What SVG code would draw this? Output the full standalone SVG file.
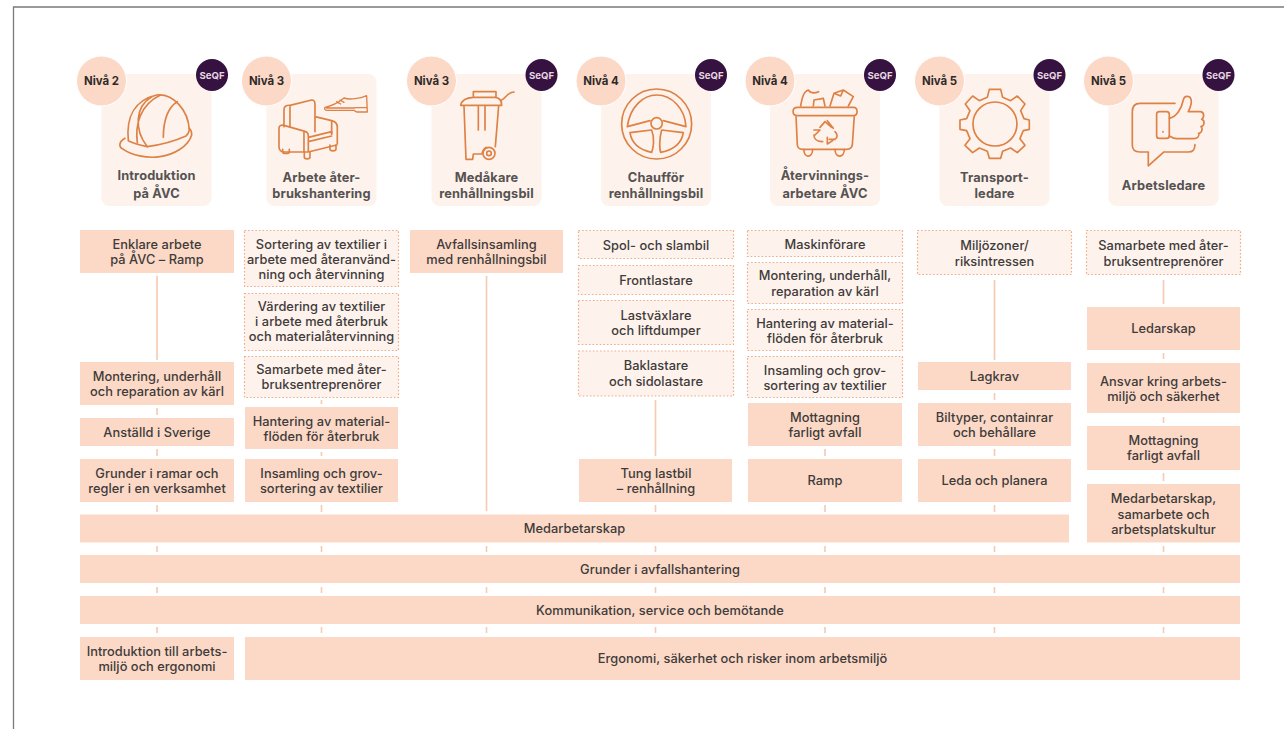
<svg xmlns="http://www.w3.org/2000/svg" width="1284" height="729" viewBox="0 0 1284 729">
<style>
text{font-family:"Inter","Liberation Sans",sans-serif;text-anchor:middle}
.s{fill:#fbd9c6}
.d{fill:#fdf2ec;stroke:#f0ac88;stroke-width:1.200;stroke-dasharray:1.600 2}
.t{font-size:12.800px;letter-spacing:.05px;font-weight:500;fill:#3f3b3a}
.h{font-size:12.800px;letter-spacing:.15px;font-weight:700;fill:#555352}
.card{fill:#fef2ec}
.niv{fill:#fbd9c6;stroke:#fff;stroke-width:1}
.nt{font-size:11.400px;font-weight:700;fill:#2f2a2a}
.sq{fill:#35123f}
.st{font-size:9.600px;font-weight:700;fill:#e6d6e2}
.ic{fill:none;stroke:#dd8145;stroke-width:5;stroke-linecap:round;stroke-linejoin:round}
.c{stroke:#f6c9b1;stroke-width:1.600;fill:none}
</style>
<path d="M13.500 729V7H1284" fill="none" stroke="#7a7a7a" stroke-width="1.300"/>
<g id="connectors">
<path class="c" d="M157 276V360M157 408V415M157 449V456M157 505V512M157 546V552M157 587V593M157 627V633
M321.500 400V404M321.500 452V456M321.500 505V512M321.500 546V552M321.500 587V593M321.500 627V633
M486.500 276V511M486.500 546V552M486.500 587V593M486.500 627V633
M655.500 400V456M655.500 505V512M655.500 546V552M655.500 587V593M655.500 627V633
M825 449V456M825 505V512M825 546V552M825 587V593M825 627V633
M994.500 280V360M994.500 393V400M994.500 449V456M994.500 505V512M994.500 546V552M994.500 587V593M994.500 627V633
M1163.500 280V304M1163.500 353V359M1163.500 417V423M1163.500 473V481M1163.500 546V552M1163.500 587V593M1163.500 627V633"/>
</g>

<g id="card-1"><rect class="card" x="101.500" y="74" width="110" height="132" rx="8"/>
<g class="ic" transform="translate(60 50) scale(.3333)"><path d="M195 265C176 276 175 291 190 298C215 315 260 326 300 320C340 315 385 290 395 255C395 245 392 238 388 235"/><path d="M205 272C198 200 225 150 290 135C340 130 385 180 388 240C386 250 382 255 378 258C340 275 300 285 262 290C240 285 220 280 205 272Z"/><path d="M262 290C222 240 225 170 275 140M232 278C225 225 240 165 300 136M310 262C310 210 325 170 352 155"/></g>
<text class="h" x="156.500" y="180">Introduktion</text><text class="h" x="156.500" y="198">på ÅVC</text>
<circle class="niv" cx="101.500" cy="81" r="25"/><text class="nt" x="101.500" y="85">Nivå 2</text>
<circle class="sq" cx="212" cy="75" r="16"/><text class="st" x="212" y="78.500">SeQF</text></g>

<g id="card-2"><rect class="card" x="266.500" y="74" width="110" height="132" rx="8"/>
<g class="ic" transform="translate(60 50) scale(.3333)"><path d="M672 230V180C672 168 680 165 690 166L755 150C762 150 765 155 765 162V245M690 166V232M765 200L815 212C828 215 832 222 832 232V282M815 212V252"/><path d="M657 235C657 226 664 224 672 226L735 244C742 246 745 250 745 258V306H675C662 306 657 300 657 290ZM732 244V306M745 262L815 245V252M745 275L815 258M745 306L830 285"/><path d="M668 298V306C668 312 688 312 688 306V298M733 306V322C733 328 750 328 750 322V306M810 285V298C810 304 828 304 828 298V285"/></g>
<g class="ic" style="stroke-width:4" transform="translate(60 50) scale(.3333)"><path d="M795 172C815 168 835 158 852 144C870 150 900 146 920 137L922 186H890L882 181H800C794 181 793 176 795 172ZM800 174H884M886 173H921M830 155L842 162M840 150L852 157"/></g>
<text class="h" x="321.500" y="182">Arbete åter-</text><text class="h" x="321.500" y="198">brukshantering</text>
<circle class="niv" cx="266.500" cy="81" r="25"/><text class="nt" x="266.500" y="85">Nivå 3</text></g>

<g id="card-3"><rect class="card" x="431.500" y="74" width="110" height="132" rx="8"/>
<g class="ic" transform="translate(400 50) scale(.3333)"><path d="M182 166C185 150 200 143 220 142H285C300 143 305 155 305 166H182ZM220 142V125H288V142M305 150C318 145 322 126 342 126"/><path d="M192 168L198 328H218L220 312H246C248 300 252 296 258 292M296 168L286 290M235 170V240M255 170V240"/><circle cx="267" cy="310" r="18"/><circle cx="267" cy="310" r="7"/></g>
<text class="h" x="486.500" y="182">Medåkare</text><text class="h" x="486.500" y="198">renhållningsbil</text>
<circle class="niv" cx="431.500" cy="81" r="25"/><text class="nt" x="431.500" y="85">Nivå 3</text>
<circle class="sq" cx="541.500" cy="75" r="16"/><text class="st" x="541.500" y="78.500">SeQF</text></g>

<g id="card-4"><rect class="card" x="601" y="74" width="110" height="132" rx="8"/>
<g class="ic" transform="translate(400 50) scale(.3333)"><circle cx="770" cy="222" r="105"/><path d="M682 230C690 170 730 135 770 135C815 135 855 175 858 230L790 212M682 230L750 212"/><circle cx="770" cy="220" r="17"/><path d="M690 248L755 240C765 265 760 295 755 307C720 300 695 280 690 248ZM850 248L785 240C778 265 778 295 782 307C820 300 845 280 850 248Z"/></g>
<text class="h" x="656" y="182">Chaufför</text><text class="h" x="656" y="198">renhållningsbil</text>
<circle class="niv" cx="601" cy="81" r="25"/><text class="nt" x="601" y="85">Nivå 4</text>
<circle class="sq" cx="711" cy="75" r="16"/><text class="st" x="711" y="78.500">SeQF</text></g>

<g id="card-5"><rect class="card" x="770" y="74" width="110" height="132" rx="8"/>
<g class="ic" transform="translate(740 50) scale(.3333)"><path d="M172 172H340C355 172 355 197 340 197H172C155 197 155 172 172 172ZM168 197L172 285C173 295 180 298 188 298H320C330 298 336 292 337 285L343 197M190 197H325"/><path d="M192 298C190 325 218 325 218 298M285 298C285 325 313 325 313 298"/><path d="M182 168C186 145 190 125 205 120C212 130 225 130 236 125M220 168L222 150L250 145L255 168M270 168L282 130L310 120L340 140L325 168M282 130L302 138L310 120"/><path d="M240 232L255 215L275 232M262 212L280 235M222 255C222 265 230 275 248 275M222 240L240 240L222 258M268 268H285C295 262 292 252 285 245M262 262V282L278 272"/></g>
<text class="h" x="825" y="180">Återvinnings-</text><text class="h" x="825" y="198">arbetare ÅVC</text>
<circle class="niv" cx="770" cy="81" r="25"/><text class="nt" x="770" y="85">Nivå 4</text>
<circle class="sq" cx="880" cy="75" r="16"/><text class="st" x="880" y="78.500">SeQF</text></g>

<g id="card-6"><rect class="card" x="939.500" y="74" width="110" height="132" rx="8"/>
<g class="ic" transform="translate(740 50) scale(.3333)"><circle cx="765" cy="222" r="66"/><path d="M748 118H782L788 142L812 152L832 138L855 162L842 182L852 206L868 210V238L850 242L840 266L855 286L832 308L812 294L788 304L782 325H748L742 304L718 294L698 308L675 286L690 266L680 242L660 238V210L680 206L690 182L676 162L698 138L718 152L742 142Z"/></g>
<text class="h" x="994.500" y="182">Transport-</text><text class="h" x="994.500" y="198">ledare</text>
<circle class="niv" cx="939.500" cy="81" r="25"/><text class="nt" x="939.500" y="85">Nivå 5</text>
<circle class="sq" cx="1049.500" cy="75" r="16"/><text class="st" x="1049.500" y="78.500">SeQF</text></g>

<g id="card-7"><rect class="card" x="1108.500" y="74" width="110" height="132" rx="8"/>
<g class="ic" transform="translate(740 50) scale(.3333)"><path d="M1305 160H1200C1185 160 1177 170 1177 185V285C1177 298 1185 306 1200 306H1225V348L1272 306H1345C1358 306 1365 298 1365 284"/><rect x="1250" y="185" width="38" height="80" rx="8"/><path d="M1288 205C1310 200 1325 175 1330 150C1333 135 1352 135 1354 152C1355 165 1350 175 1345 185H1382C1395 187 1392 205 1385 208C1396 212 1394 228 1383 230C1390 236 1385 250 1376 250C1380 258 1372 266 1362 266H1310C1300 266 1295 262 1288 258"/><path d="M1269 245V246"/></g>
<text class="h" x="1163.500" y="190">Arbetsledare</text>
<circle class="niv" cx="1108.500" cy="81" r="25"/><text class="nt" x="1108.500" y="85">Nivå 5</text>
<circle class="sq" cx="1218.500" cy="75" r="16"/><text class="st" x="1218.500" y="78.500">SeQF</text></g>

<g id="col-1">
<g id="n1a"><rect class="s" x="80" y="230" width="154" height="43"/><text class="t" x="157" y="249">Enklare arbete</text><text class="t" x="157" y="264">på ÅVC – Ramp</text></g>
<g id="n1b"><rect class="s" x="80" y="362" width="154" height="43"/><text class="t" x="157" y="381">Montering, underhåll</text><text class="t" x="157" y="396">och reparation av kärl</text></g>
<g id="n1c"><rect class="s" x="80" y="418" width="154" height="28"/><text class="t" x="157" y="437">Anställd i Sverige</text></g>
<g id="n1d"><rect class="s" x="80" y="459" width="154" height="43"/><text class="t" x="157" y="478">Grunder i ramar och</text><text class="t" x="157" y="493">regler i en verksamhet</text></g>
</g>
<g id="col-2">
<g id="n2a"><rect class="d" x="244.500" y="230.500" width="154" height="56"/><text class="t" x="321.500" y="249">Sortering av textilier i</text><text class="t" x="321.500" y="264">arbete med återanvänd-</text><text class="t" x="321.500" y="279">ning och återvinning</text></g>
<g id="n2b"><rect class="d" x="244.500" y="293.500" width="154" height="57"/><text class="t" x="321.500" y="311">Värdering av textilier</text><text class="t" x="321.500" y="326">i arbete med återbruk</text><text class="t" x="321.500" y="341">och materialåtervinning</text></g>
<g id="n2c"><rect class="d" x="244.500" y="356.500" width="154" height="41"/><text class="t" x="321.500" y="373.500">Samarbete med åter-</text><text class="t" x="321.500" y="389">bruksentreprenörer</text></g>
<g id="n2d"><rect class="s" x="245" y="407" width="153" height="42"/><text class="t" x="321.500" y="425.500">Hantering av material-</text><text class="t" x="321.500" y="440.500">flöden för återbruk</text></g>
<g id="n2e"><rect class="s" x="245" y="459" width="153" height="43"/><text class="t" x="321.500" y="478">Insamling och grov-</text><text class="t" x="321.500" y="493">sortering av textilier</text></g>
</g>
<g id="col-3">
<g id="n3a"><rect class="s" x="410" y="230" width="153" height="43"/><text class="t" x="486.500" y="249">Avfallsinsamling</text><text class="t" x="486.500" y="264">med renhållningsbil</text></g>
</g>
<g id="col-4">
<g id="n4a"><rect class="d" x="578.500" y="230.500" width="155" height="28"/><text class="t" x="656" y="250">Spol- och slambil</text></g>
<g id="n4b"><rect class="d" x="578.500" y="265.500" width="155" height="29"/><text class="t" x="656" y="285">Frontlastare</text></g>
<g id="n4c"><rect class="d" x="578.500" y="300.500" width="155" height="44"/><text class="t" x="656" y="320">Lastväxlare</text><text class="t" x="656" y="335">och liftdumper</text></g>
<g id="n4d"><rect class="d" x="578.500" y="351" width="155" height="45"/><text class="t" x="656" y="370">Baklastare</text><text class="t" x="656" y="386">och sidolastare</text></g>
<g id="n4e"><rect class="s" x="579" y="459" width="153" height="43"/><text class="t" x="656" y="478">Tung lastbil</text><text class="t" x="656" y="493">– renhållning</text></g>
</g>
<g id="col-5">
<g id="n5a"><rect class="d" x="747.500" y="230.500" width="155" height="26"/><text class="t" x="825" y="249">Maskinförare</text></g>
<g id="n5b"><rect class="d" x="747.500" y="262.500" width="155" height="41"/><text class="t" x="825" y="280">Montering, underhåll,</text><text class="t" x="825" y="295.500">reparation av kärl</text></g>
<g id="n5c"><rect class="d" x="747.500" y="309.500" width="155" height="41"/><text class="t" x="825" y="327.500">Hantering av material-</text><text class="t" x="825" y="343">flöden för återbruk</text></g>
<g id="n5d"><rect class="d" x="747.500" y="356.500" width="155" height="41"/><text class="t" x="825" y="374.500">Insamling och grov-</text><text class="t" x="825" y="389.500">sortering av textilier</text></g>
<g id="n5e"><rect class="s" x="748" y="403" width="154" height="43"/><text class="t" x="825" y="422">Mottagning</text><text class="t" x="825" y="437">farligt avfall</text></g>
<g id="n5f"><rect class="s" x="748" y="459" width="154" height="43"/><text class="t" x="825" y="485">Ramp</text></g>
</g>
<g id="col-6">
<g id="n6a"><rect class="d" x="917.500" y="230.500" width="154" height="44"/><text class="t" x="994.500" y="250">Miljözoner/</text><text class="t" x="994.500" y="265.500">riksintressen</text></g>
<g id="n6b"><rect class="s" x="918" y="362" width="153" height="28"/><text class="t" x="994.500" y="381">Lagkrav</text></g>
<g id="n6c"><rect class="s" x="918" y="403" width="153" height="43"/><text class="t" x="994.500" y="422">Biltyper, containrar</text><text class="t" x="994.500" y="437">och behållare</text></g>
<g id="n6d"><rect class="s" x="918" y="459" width="153" height="43"/><text class="t" x="994.500" y="485">Leda och planera</text></g>
</g>
<g id="col-7">
<g id="n7a"><rect class="d" x="1086.500" y="230.500" width="154" height="44"/><text class="t" x="1163.500" y="250">Samarbete med åter-</text><text class="t" x="1163.500" y="265.500">bruksentreprenörer</text></g>
<g id="n7b"><rect class="s" x="1087" y="307" width="153" height="43"/><text class="t" x="1163.500" y="333">Ledarskap</text></g>
<g id="n7c"><rect class="s" x="1087" y="363" width="153" height="50"/><text class="t" x="1163.500" y="385.500">Ansvar kring arbets-</text><text class="t" x="1163.500" y="401">miljö och säkerhet</text></g>
<g id="n7d"><rect class="s" x="1087" y="426" width="153" height="44"/><text class="t" x="1163.500" y="445">Mottagning</text><text class="t" x="1163.500" y="460">farligt avfall</text></g>
<g id="n7e"><rect class="s" x="1087" y="484" width="153" height="58.500"/><text class="t" x="1163.500" y="503">Medarbetarskap,</text><text class="t" x="1163.500" y="518.500">samarbete och</text><text class="t" x="1163.500" y="534">arbetsplatskultur</text></g>
</g>
<g id="bars">
<g id="b1"><rect class="s" x="80" y="514.500" width="989" height="28"/><text class="t" x="574.500" y="533">Medarbetarskap</text></g>
<g id="b2"><rect class="s" x="80" y="555" width="1160" height="28"/><text class="t" x="660" y="574">Grunder i avfallshantering</text></g>
<g id="b3"><rect class="s" x="80" y="596" width="1160" height="28"/><text class="t" x="660" y="615">Kommunikation, service och bemötande</text></g>
<g id="b4"><rect class="s" x="80" y="637" width="154" height="43"/><text class="t" x="157" y="656">Introduktion till arbets-</text><text class="t" x="157" y="671">miljö och ergonomi</text></g>
<g id="b5"><rect class="s" x="245" y="637" width="995" height="43"/><text class="t" x="742.500" y="663">Ergonomi, säkerhet och risker inom arbetsmiljö</text></g>
</g>
</svg>
